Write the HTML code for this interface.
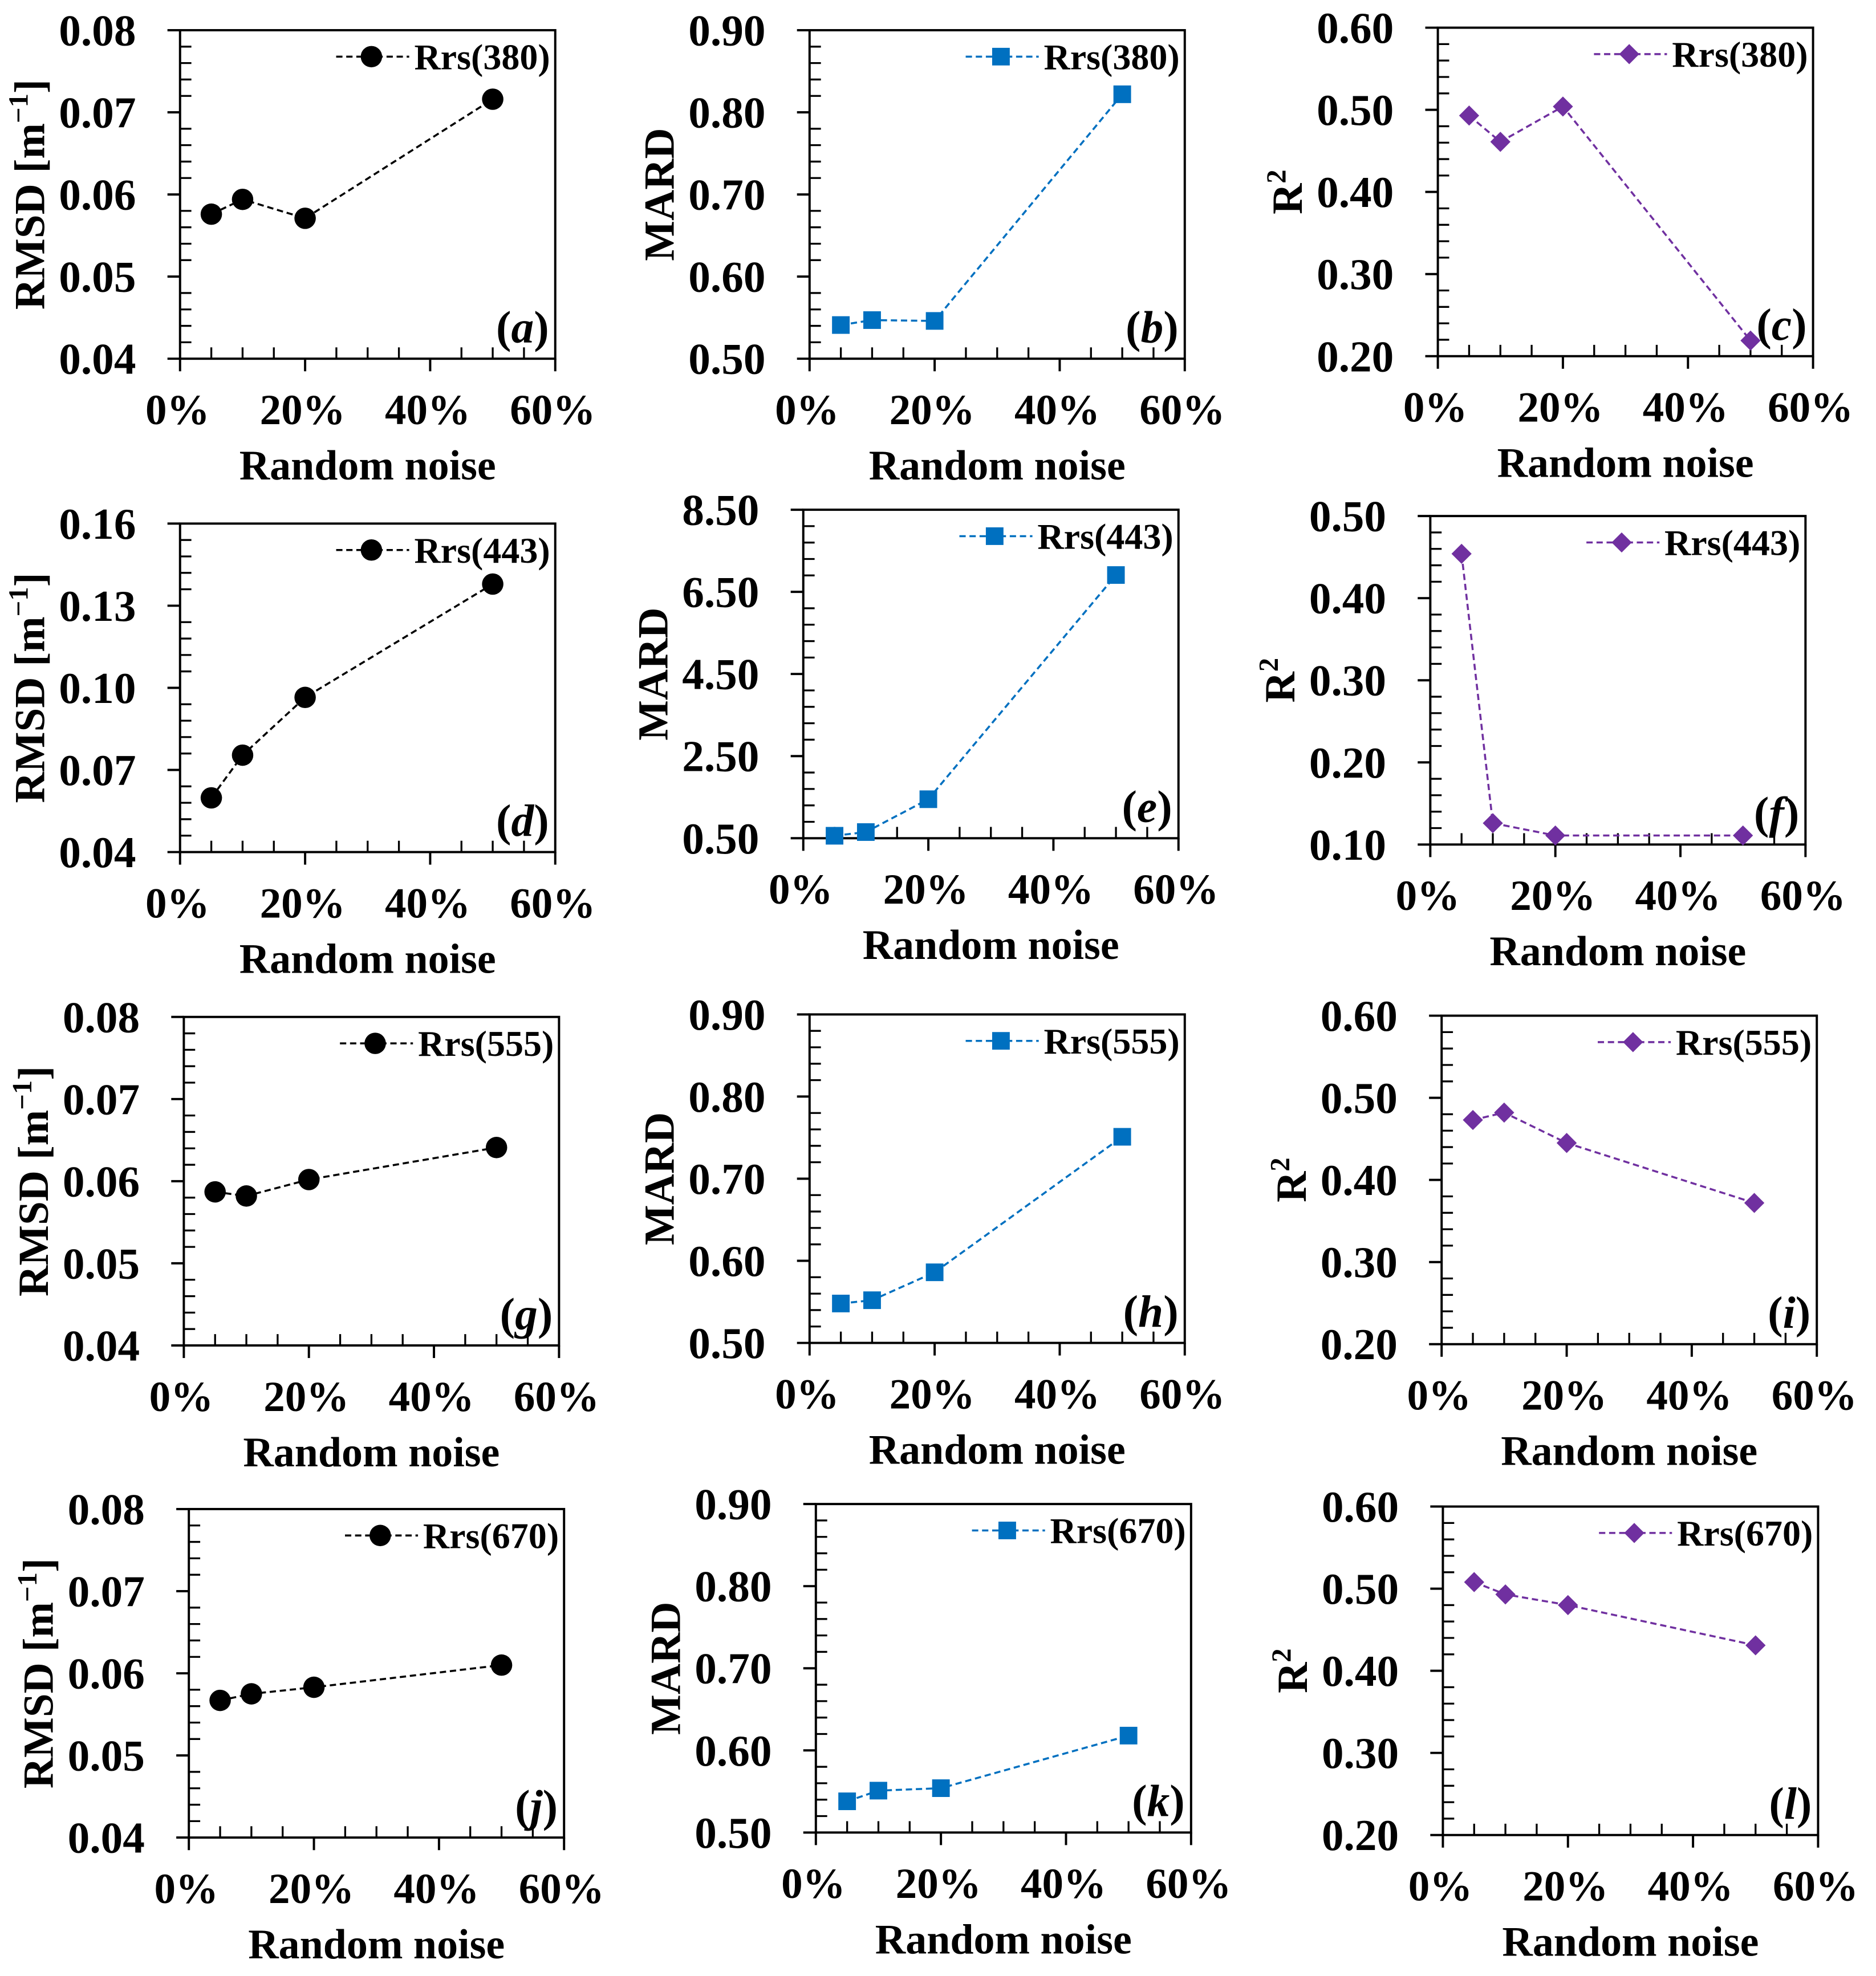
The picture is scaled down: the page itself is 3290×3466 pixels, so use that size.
<!DOCTYPE html>
<html><head><meta charset="utf-8"><style>
html,body{margin:0;padding:0;background:#fff;}
svg{display:block;font-family:"Liberation Serif",serif;font-weight:bold;}
</style></head><body>
<svg id="fig" width="3290" height="3466" viewBox="0 0 1490 1570" preserveAspectRatio="none" xmlns="http://www.w3.org/2000/svg"></svg>
<script>
const xValues = [5, 10, 20, 50];
const xTicks = [0, 20, 40, 60];
const xTickLabels = ["0%", "20%", "40%", "60%"];
const legendLabels = ["Rrs(380)", "Rrs(443)", "Rrs(555)", "Rrs(670)"];
const panelLetters = ["a","b","c","d","e","f","g","h","i","j","k","l"];
const valsA = [0.0576, 0.0594, 0.0571, 0.0716];
const valsB = [0.541, 0.547, 0.546, 0.822];
const valsC = [0.493, 0.461, 0.504, 0.219];
const valsD = [0.0598, 0.0754, 0.0965, 0.1379];
const valsE = [0.56, 0.65, 1.45, 6.91];
const valsF = [0.454, 0.126, 0.111, 0.111];
const valsG = [0.0587, 0.0582, 0.0602, 0.0641];
const valsH = [0.548, 0.552, 0.586, 0.751];
const valsI = [0.473, 0.482, 0.445, 0.372];
const valsJ = [0.0567, 0.0575, 0.0583, 0.0610];
const valsK = [0.538, 0.551, 0.554, 0.618];
const valsL = [0.508, 0.493, 0.480, 0.431];
const ticksRmsd = [0.04, 0.05, 0.06, 0.07, 0.08];
const ticksRmsd443 = [0.04, 0.07, 0.10, 0.13, 0.16];
const ticksMard = [0.50, 0.60, 0.70, 0.80, 0.90];
const ticksMard443 = [0.50, 2.50, 4.50, 6.50, 8.50];
const ticksR2 = [0.20, 0.30, 0.40, 0.50, 0.60];
const ticksR2443 = [0.10, 0.20, 0.30, 0.40, 0.50];

const NS = "http://www.w3.org/2000/svg";
const svg = document.getElementById("fig");
function mk(tag, attrs, parent) {
  const e = document.createElementNS(NS, tag);
  for (const k in attrs) e.setAttribute(k, attrs[k]);
  (parent || svg).appendChild(e);
  return e;
}
const W = 298, H = 261;
const panels = [
  {x0:143,top:24,vals:valsA,ticks:ticksRmsd,dec:2,kind:"rmsd",row:0},
  {x0:643,top:24,vals:valsB,ticks:ticksMard,dec:2,kind:"mard",row:0},
  {x0:1142,top:22,vals:valsC,ticks:ticksR2,dec:2,kind:"r2",row:0},
  {x0:143,top:416,vals:valsD,ticks:ticksRmsd443,dec:2,kind:"rmsd",row:1},
  {x0:638,top:405,vals:valsE,ticks:ticksMard443,dec:2,kind:"mard",row:1},
  {x0:1136,top:410,vals:valsF,ticks:ticksR2443,dec:2,kind:"r2",row:1},
  {x0:146,top:808,vals:valsG,ticks:ticksRmsd,dec:2,kind:"rmsd",row:2},
  {x0:643,top:806,vals:valsH,ticks:ticksMard,dec:2,kind:"mard",row:2},
  {x0:1145,top:807,vals:valsI,ticks:ticksR2,dec:2,kind:"r2",row:2},
  {x0:150,top:1199,vals:valsJ,ticks:ticksRmsd,dec:2,kind:"rmsd",row:3},
  {x0:648,top:1195,vals:valsK,ticks:ticksMard,dec:2,kind:"mard",row:3},
  {x0:1146,top:1197,vals:valsL,ticks:ticksR2,dec:2,kind:"r2",row:3}
];
const colors = {rmsd:"#000", mard:"#0070C0", r2:"#7030A0"};

function marker(kind, cx, cy, g, color) {
  let m;
  if (kind === "rmsd") m = mk("circle", {cx:cx, cy:cy, r:8.5, fill:color}, g);
  else if (kind === "mard") m = mk("rect", {x:cx-7, y:cy-7, width:14, height:14, fill:color}, g);
  else m = mk("polygon", {points:`${cx},${cy-8} ${cx+8},${cy} ${cx},${cy+8} ${cx-8},${cy}`, fill:color}, g);
  return m;
}

panels.forEach((p, i) => {
  const g = mk("g", {});
  
  
  const bottom = p.top + H;
  const ymin = p.ticks[0], ymax = p.ticks[p.ticks.length-1];
  const xs = v => p.x0 + v / 60 * W;
  const ys = v => bottom - (v - ymin) / (ymax - ymin) * H;
  const color = colors[p.kind];
  const fr = mk("rect", {x:p.x0, y:p.top, width:W, height:H, fill:"none", stroke:"#000", "stroke-width":1.8}, g);
  
  
  const yt = mk("g", {}, g);
  
  
  for (let k = 0; k < p.ticks.length; k++) {
    const y = ys(p.ticks[k]);
    mk("line", {x1:p.x0-10, x2:p.x0, y1:y, y2:y, stroke:"#000", "stroke-width":1.8}, yt);
    const t = mk("text", {x:p.x0-35, y:y+12, "text-anchor":"end", "font-size":35}, yt);
    t.textContent = p.ticks[k].toFixed(p.dec);
    
    
    if (k < p.ticks.length-1) {
      for (let m = 1; m < 5; m++) {
        const ym = y - m * H / (p.ticks.length-1) / 5;
        mk("line", {x1:p.x0, x2:p.x0+9, y1:ym, y2:ym, stroke:"#000", "stroke-width":1.5}, yt);
      }
    }
  }
  const xt = mk("g", {}, g);
  
  
  for (let v = 5; v < 60; v += 5) {
    if (v % 20 === 0) continue;
    mk("line", {x1:xs(v), x2:xs(v), y1:bottom, y2:bottom-9, stroke:"#000", "stroke-width":1.5}, xt);
  }
  xTicks.forEach((v, k) => {
    mk("line", {x1:xs(v), x2:xs(v), y1:bottom, y2:bottom+10, stroke:"#000", "stroke-width":1.8}, xt);
    const t = mk("text", {x:xs(v)-2, y:bottom+52, "text-anchor":"middle", "font-size":34}, xt);
    t.textContent = xTickLabels[k];
    
    
  });
  const xtt = mk("text", {x:p.x0+W/2, y:bottom+96, "text-anchor":"middle", "font-size":33.5}, g);
  xtt.textContent = "Random noise";
  
  
  const cy = p.top + H/2, cx = p.x0 - 108;
  const ytt = mk("text", {x:0, y:0, "text-anchor":"middle", "font-size":34, transform:`translate(${cx},${cy}) rotate(-90)`}, g);
  
  
  if (p.kind === "rmsd") ytt.innerHTML = 'RMSD [m<tspan font-size="22" dy="-13">−1</tspan><tspan dy="13">]</tspan>';
  else if (p.kind === "mard") ytt.textContent = "MARD";
  else ytt.innerHTML = 'R<tspan font-size="22" dy="-13">2</tspan>';
  const ser = mk("g", {}, g);
  
  
  const pts = xValues.map((x, k) => xs(x) + "," + ys(p.vals[k])).join(" ");
  const pl = mk("polyline", {points:pts, fill:"none", stroke:color, "stroke-width":1.6, "stroke-dasharray":"5,3"}, ser);
  
  
  xValues.forEach((x, k) => {
    const m = marker(p.kind, xs(x), ys(p.vals[k]), ser, color);
    
    
  });
  const lg = mk("g", {}, g);
  
  
  const ly = p.top + 21;
  mk("line", {x1:p.x0+124, x2:p.x0+182, y1:ly, y2:ly, stroke:color, "stroke-width":1.6, "stroke-dasharray":"5,3"}, lg);
  marker(p.kind, p.x0+152, ly, lg, color);
  const lt = mk("text", {x:p.x0+186, y:ly+10, "font-size":29}, lg);
  lt.textContent = legendLabels[p.row];
  const pt = mk("text", {x:p.x0+W-5, y:bottom-13, "text-anchor":"end", "font-size":36}, g);
  pt.innerHTML = '(<tspan font-style="italic">' + panelLetters[i] + '</tspan>)';
  
  
});
</script>
</body></html>
